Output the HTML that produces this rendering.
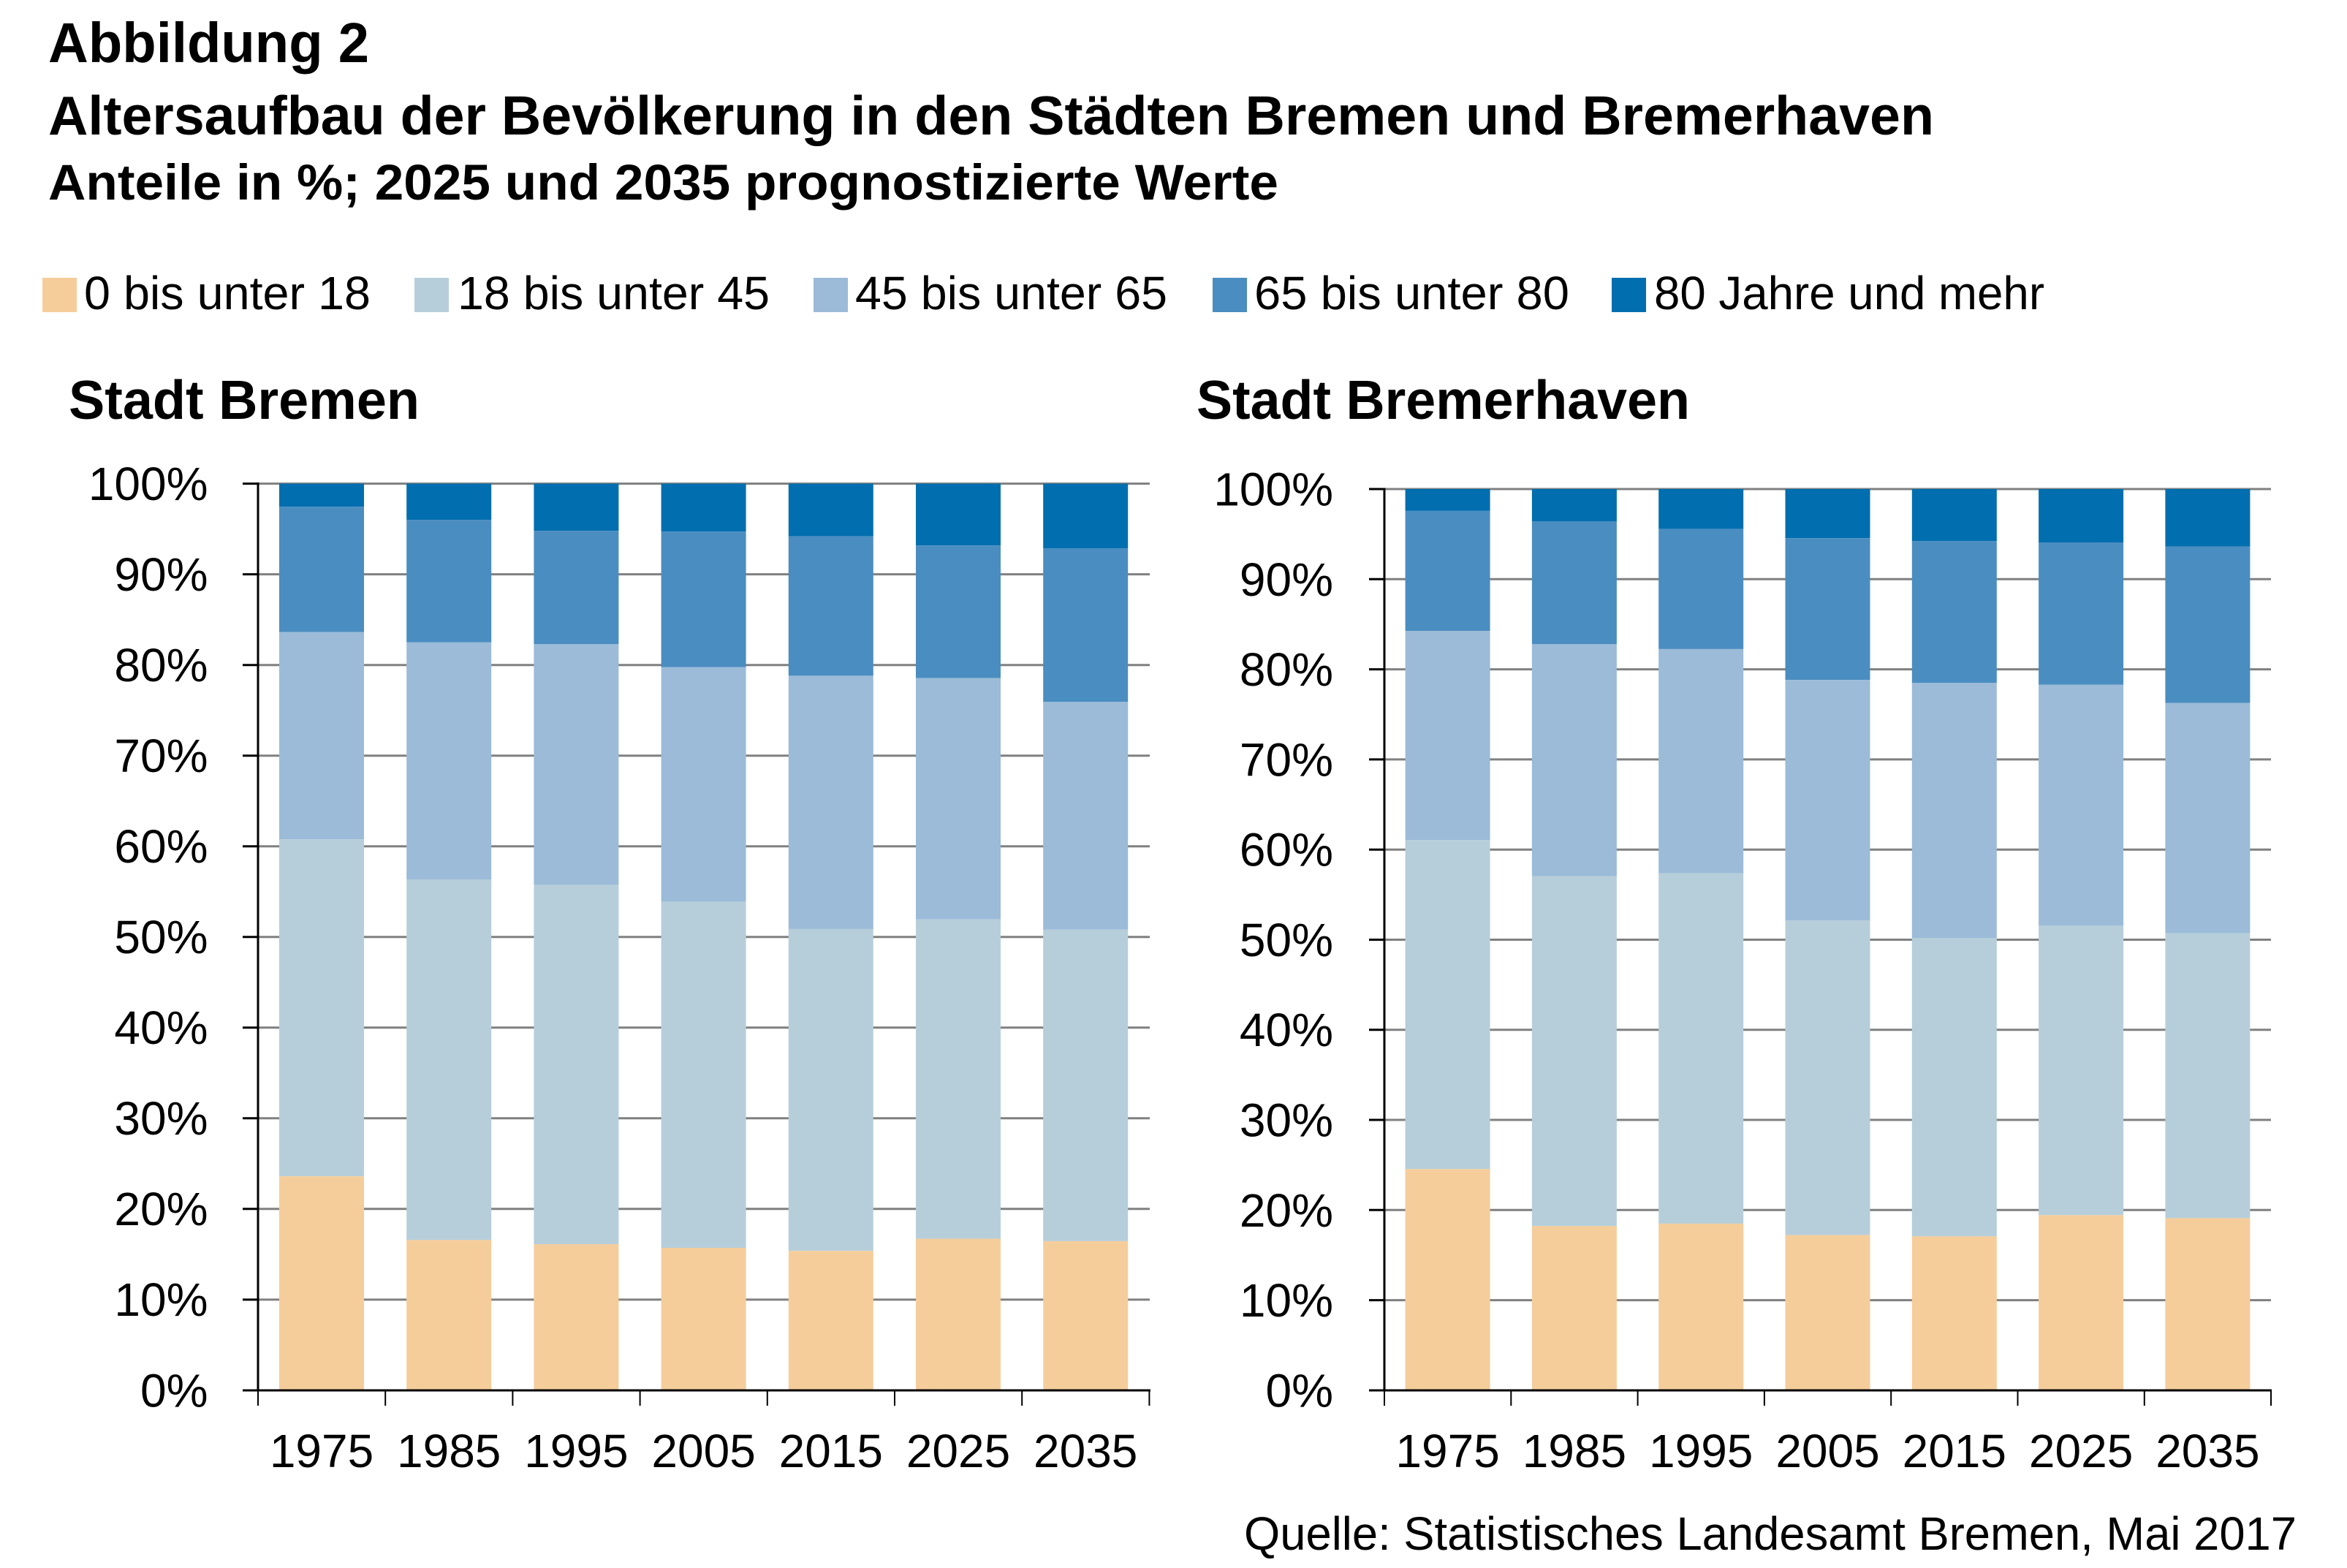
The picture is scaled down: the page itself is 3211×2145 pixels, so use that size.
<!DOCTYPE html>
<html><head><meta charset="utf-8"><style>
html,body{margin:0;padding:0;background:#fff;}
svg{display:block;}
text{font-family:"Liberation Sans",sans-serif;fill:#000;}
.b{font-weight:bold;}
</style></head><body>
<svg width="3211" height="2145" viewBox="0 0 3211 2145" xmlns="http://www.w3.org/2000/svg">
<rect width="3211" height="2145" fill="#fff"/>
<!-- titles -->
<text class="b" x="66" y="85" font-size="77" textLength="439" lengthAdjust="spacingAndGlyphs">Abbildung 2</text>
<text class="b" x="66" y="184" font-size="75" textLength="2580" lengthAdjust="spacingAndGlyphs">Altersaufbau der Bevölkerung in den Städten Bremen und Bremerhaven</text>
<text class="b" x="66" y="273" font-size="69" textLength="1683" lengthAdjust="spacingAndGlyphs">Anteile in %; 2025 und 2035 prognostizierte Werte</text>
<!-- legend -->
<rect x="58" y="380" width="47" height="47" fill="#F5CD9B"/>
<text x="115" y="423" font-size="64" textLength="392" lengthAdjust="spacingAndGlyphs">0 bis unter 18</text>
<rect x="567" y="380" width="47" height="47" fill="#B6CEDA"/>
<text x="626" y="423" font-size="64" textLength="427" lengthAdjust="spacingAndGlyphs">18 bis unter 45</text>
<rect x="1113" y="380" width="47" height="47" fill="#9BBBD8"/>
<text x="1170" y="423" font-size="64" textLength="427" lengthAdjust="spacingAndGlyphs">45 bis unter 65</text>
<rect x="1659" y="380" width="47" height="47" fill="#4A8DC1"/>
<text x="1716" y="423" font-size="64" textLength="431" lengthAdjust="spacingAndGlyphs">65 bis unter 80</text>
<rect x="2205" y="380" width="47" height="47" fill="#006EAF"/>
<text x="2263" y="423" font-size="64" textLength="534" lengthAdjust="spacingAndGlyphs">80 Jahre und mehr</text>
<!-- subtitles -->
<text class="b" x="94" y="573" font-size="75" textLength="480" lengthAdjust="spacingAndGlyphs">Stadt Bremen</text>
<text class="b" x="1637" y="573" font-size="75" textLength="675" lengthAdjust="spacingAndGlyphs">Stadt Bremerhaven</text>

<!-- LEFT CHART -->
<g stroke="#808080" stroke-width="3">
<line x1="353" x2="1573" y1="661.6" y2="661.6"/>
<line x1="353" x2="1573" y1="785.6" y2="785.6"/>
<line x1="353" x2="1573" y1="909.7" y2="909.7"/>
<line x1="353" x2="1573" y1="1033.7" y2="1033.7"/>
<line x1="353" x2="1573" y1="1157.7" y2="1157.7"/>
<line x1="353" x2="1573" y1="1281.8" y2="1281.8"/>
<line x1="353" x2="1573" y1="1405.8" y2="1405.8"/>
<line x1="353" x2="1573" y1="1529.8" y2="1529.8"/>
<line x1="353" x2="1573" y1="1653.8" y2="1653.8"/>
<line x1="353" x2="1573" y1="1777.9" y2="1777.9"/>
</g>
<!-- bars left: x = 382 + i*174.2 -->
<g>
<rect x="382" y="661.6" width="116" height="31.5" fill="#006EAF"/>
<rect x="382" y="693.1" width="116" height="171.6" fill="#4A8DC1"/>
<rect x="382" y="864.7" width="116" height="283.5" fill="#9BBBD8"/>
<rect x="382" y="1148.2" width="116" height="461" fill="#B6CEDA"/>
<rect x="382" y="1609.2" width="116" height="292.8" fill="#F5CD9B"/>

<rect x="556.2" y="661.6" width="116" height="49.7" fill="#006EAF"/>
<rect x="556.2" y="711.3" width="116" height="167.5" fill="#4A8DC1"/>
<rect x="556.2" y="878.8" width="116" height="324.2" fill="#9BBBD8"/>
<rect x="556.2" y="1203.0" width="116" height="493.3" fill="#B6CEDA"/>
<rect x="556.2" y="1696.3" width="116" height="205.7" fill="#F5CD9B"/>

<rect x="730.4" y="661.6" width="116" height="64.6" fill="#006EAF"/>
<rect x="730.4" y="726.2" width="116" height="155.1" fill="#4A8DC1"/>
<rect x="730.4" y="881.3" width="116" height="329.1" fill="#9BBBD8"/>
<rect x="730.4" y="1210.4" width="116" height="491.7" fill="#B6CEDA"/>
<rect x="730.4" y="1702.1" width="116" height="199.9" fill="#F5CD9B"/>

<rect x="904.6" y="661.6" width="116" height="65.5" fill="#006EAF"/>
<rect x="904.6" y="727.1" width="116" height="185.7" fill="#4A8DC1"/>
<rect x="904.6" y="912.8" width="116" height="320.8" fill="#9BBBD8"/>
<rect x="904.6" y="1233.6" width="116" height="473.4" fill="#B6CEDA"/>
<rect x="904.6" y="1707.0" width="116" height="195" fill="#F5CD9B"/>

<rect x="1078.8" y="661.6" width="116" height="72.1" fill="#006EAF"/>
<rect x="1078.8" y="733.7" width="116" height="190.7" fill="#4A8DC1"/>
<rect x="1078.8" y="924.4" width="116" height="346.5" fill="#9BBBD8"/>
<rect x="1078.8" y="1270.9" width="116" height="440.3" fill="#B6CEDA"/>
<rect x="1078.8" y="1711.2" width="116" height="190.8" fill="#F5CD9B"/>

<rect x="1253" y="661.6" width="116" height="84.5" fill="#006EAF"/>
<rect x="1253" y="746.1" width="116" height="181.6" fill="#4A8DC1"/>
<rect x="1253" y="927.7" width="116" height="330" fill="#9BBBD8"/>
<rect x="1253" y="1257.7" width="116" height="436.9" fill="#B6CEDA"/>
<rect x="1253" y="1694.6" width="116" height="207.4" fill="#F5CD9B"/>

<rect x="1427.2" y="661.6" width="116" height="88.7" fill="#006EAF"/>
<rect x="1427.2" y="750.3" width="116" height="209.7" fill="#4A8DC1"/>
<rect x="1427.2" y="960.0" width="116" height="311.8" fill="#9BBBD8"/>
<rect x="1427.2" y="1271.8" width="116" height="426.1" fill="#B6CEDA"/>
<rect x="1427.2" y="1697.9" width="116" height="204.1" fill="#F5CD9B"/>
</g>
<!-- axes left -->
<g stroke="#000" stroke-width="3">
<line x1="353" x2="353" y1="660" y2="1903.5"/>
<line x1="351.5" x2="1574" y1="1902" y2="1902"/>
<line x1="332" x2="353" y1="661.6" y2="661.6"/>
<line x1="332" x2="353" y1="785.6" y2="785.6"/>
<line x1="332" x2="353" y1="909.7" y2="909.7"/>
<line x1="332" x2="353" y1="1033.7" y2="1033.7"/>
<line x1="332" x2="353" y1="1157.7" y2="1157.7"/>
<line x1="332" x2="353" y1="1281.8" y2="1281.8"/>
<line x1="332" x2="353" y1="1405.8" y2="1405.8"/>
<line x1="332" x2="353" y1="1529.8" y2="1529.8"/>
<line x1="332" x2="353" y1="1653.8" y2="1653.8"/>
<line x1="332" x2="353" y1="1777.9" y2="1777.9"/>
<line x1="332" x2="353" y1="1902" y2="1902"/>
</g>
<g stroke="#000" stroke-width="2">
<line x1="353" x2="353" y1="1902" y2="1923"/>
<line x1="527.2" x2="527.2" y1="1902" y2="1923"/>
<line x1="701.4" x2="701.4" y1="1902" y2="1923"/>
<line x1="875.6" x2="875.6" y1="1902" y2="1923"/>
<line x1="1049.8" x2="1049.8" y1="1902" y2="1923"/>
<line x1="1224" x2="1224" y1="1902" y2="1923"/>
<line x1="1398.2" x2="1398.2" y1="1902" y2="1923"/>
<line x1="1572.4" x2="1572.4" y1="1902" y2="1923"/>
</g>
<g font-size="64" text-anchor="end">
<text x="284.5" y="684">100%</text>
<text x="284.5" y="808">90%</text>
<text x="284.5" y="932">80%</text>
<text x="284.5" y="1056">70%</text>
<text x="284.5" y="1180">60%</text>
<text x="284.5" y="1304">50%</text>
<text x="284.5" y="1428">40%</text>
<text x="284.5" y="1552">30%</text>
<text x="284.5" y="1676">20%</text>
<text x="284.5" y="1800">10%</text>
<text x="284.5" y="1924.5">0%</text>
</g>
<g font-size="64" text-anchor="middle">
<text x="440" y="2007">1975</text>
<text x="614.2" y="2007">1985</text>
<text x="788.4" y="2007">1995</text>
<text x="962.6" y="2007">2005</text>
<text x="1136.8" y="2007">2015</text>
<text x="1311" y="2007">2025</text>
<text x="1485.2" y="2007">2035</text>
</g>

<!-- RIGHT CHART -->
<g stroke="#808080" stroke-width="3">
<line x1="1894" x2="3107" y1="669.0" y2="669.0"/>
<line x1="1894" x2="3107" y1="792.3" y2="792.3"/>
<line x1="1894" x2="3107" y1="915.6" y2="915.6"/>
<line x1="1894" x2="3107" y1="1038.9" y2="1038.9"/>
<line x1="1894" x2="3107" y1="1162.2" y2="1162.2"/>
<line x1="1894" x2="3107" y1="1285.5" y2="1285.5"/>
<line x1="1894" x2="3107" y1="1408.7" y2="1408.7"/>
<line x1="1894" x2="3107" y1="1532.0" y2="1532.0"/>
<line x1="1894" x2="3107" y1="1655.3" y2="1655.3"/>
<line x1="1894" x2="3107" y1="1778.6" y2="1778.6"/>
</g>
<g>
<rect x="1922.6" y="669.0" width="116" height="29.9" fill="#006EAF"/>
<rect x="1922.6" y="698.9" width="116" height="164.1" fill="#4A8DC1"/>
<rect x="1922.6" y="863.0" width="116" height="286.1" fill="#9BBBD8"/>
<rect x="1922.6" y="1149.1" width="116" height="450.2" fill="#B6CEDA"/>
<rect x="1922.6" y="1599.3" width="116" height="302.7" fill="#F5CD9B"/>

<rect x="2095.9" y="669.0" width="116" height="44" fill="#006EAF"/>
<rect x="2095.9" y="713.0" width="116" height="168.3" fill="#4A8DC1"/>
<rect x="2095.9" y="881.3" width="116" height="317.5" fill="#9BBBD8"/>
<rect x="2095.9" y="1198.8" width="116" height="478.4" fill="#B6CEDA"/>
<rect x="2095.9" y="1677.2" width="116" height="224.8" fill="#F5CD9B"/>

<rect x="2269.2" y="669.0" width="116" height="54.7" fill="#006EAF"/>
<rect x="2269.2" y="723.7" width="116" height="164.2" fill="#4A8DC1"/>
<rect x="2269.2" y="887.9" width="116" height="306.8" fill="#9BBBD8"/>
<rect x="2269.2" y="1194.7" width="116" height="479.2" fill="#B6CEDA"/>
<rect x="2269.2" y="1673.9" width="116" height="228.1" fill="#F5CD9B"/>

<rect x="2442.5" y="669.0" width="116" height="67.2" fill="#006EAF"/>
<rect x="2442.5" y="736.2" width="116" height="194" fill="#4A8DC1"/>
<rect x="2442.5" y="930.2" width="116" height="329.1" fill="#9BBBD8"/>
<rect x="2442.5" y="1259.3" width="116" height="430.3" fill="#B6CEDA"/>
<rect x="2442.5" y="1689.6" width="116" height="212.4" fill="#F5CD9B"/>

<rect x="2615.8" y="669.0" width="116" height="71.3" fill="#006EAF"/>
<rect x="2615.8" y="740.3" width="116" height="194" fill="#4A8DC1"/>
<rect x="2615.8" y="934.3" width="116" height="349.1" fill="#9BBBD8"/>
<rect x="2615.8" y="1283.4" width="116" height="407.9" fill="#B6CEDA"/>
<rect x="2615.8" y="1691.3" width="116" height="210.7" fill="#F5CD9B"/>

<rect x="2789.1" y="669.0" width="116" height="73" fill="#006EAF"/>
<rect x="2789.1" y="742.0" width="116" height="194.8" fill="#4A8DC1"/>
<rect x="2789.1" y="936.8" width="116" height="329.2" fill="#9BBBD8"/>
<rect x="2789.1" y="1266.0" width="116" height="396.3" fill="#B6CEDA"/>
<rect x="2789.1" y="1662.3" width="116" height="239.7" fill="#F5CD9B"/>

<rect x="2962.4" y="669.0" width="116" height="78.8" fill="#006EAF"/>
<rect x="2962.4" y="747.8" width="116" height="213.9" fill="#4A8DC1"/>
<rect x="2962.4" y="961.7" width="116" height="315" fill="#9BBBD8"/>
<rect x="2962.4" y="1276.7" width="116" height="389.7" fill="#B6CEDA"/>
<rect x="2962.4" y="1666.4" width="116" height="235.6" fill="#F5CD9B"/>
</g>
<g stroke="#000" stroke-width="3">
<line x1="1894" x2="1894" y1="667.5" y2="1903.5"/>
<line x1="1892.5" x2="3108" y1="1902" y2="1902"/>
<line x1="1873" x2="1894" y1="669.0" y2="669.0"/>
<line x1="1873" x2="1894" y1="792.3" y2="792.3"/>
<line x1="1873" x2="1894" y1="915.6" y2="915.6"/>
<line x1="1873" x2="1894" y1="1038.9" y2="1038.9"/>
<line x1="1873" x2="1894" y1="1162.2" y2="1162.2"/>
<line x1="1873" x2="1894" y1="1285.5" y2="1285.5"/>
<line x1="1873" x2="1894" y1="1408.7" y2="1408.7"/>
<line x1="1873" x2="1894" y1="1532.0" y2="1532.0"/>
<line x1="1873" x2="1894" y1="1655.3" y2="1655.3"/>
<line x1="1873" x2="1894" y1="1778.6" y2="1778.6"/>
<line x1="1873" x2="1894" y1="1902" y2="1902"/>
</g>
<g stroke="#000" stroke-width="2">
<line x1="1894" x2="1894" y1="1902" y2="1923"/>
<line x1="2067.3" x2="2067.3" y1="1902" y2="1923"/>
<line x1="2240.6" x2="2240.6" y1="1902" y2="1923"/>
<line x1="2413.9" x2="2413.9" y1="1902" y2="1923"/>
<line x1="2587.2" x2="2587.2" y1="1902" y2="1923"/>
<line x1="2760.5" x2="2760.5" y1="1902" y2="1923"/>
<line x1="2933.8" x2="2933.8" y1="1902" y2="1923"/>
<line x1="3107" x2="3107" y1="1902" y2="1923"/>
</g>
<g font-size="64" text-anchor="end">
<text x="1824" y="691.5">100%</text>
<text x="1824" y="815">90%</text>
<text x="1824" y="938">80%</text>
<text x="1824" y="1061.5">70%</text>
<text x="1824" y="1184.5">60%</text>
<text x="1824" y="1308">50%</text>
<text x="1824" y="1431">40%</text>
<text x="1824" y="1554.5">30%</text>
<text x="1824" y="1678">20%</text>
<text x="1824" y="1801">10%</text>
<text x="1824" y="1924.5">0%</text>
</g>
<g font-size="64" text-anchor="middle">
<text x="1980.6" y="2007">1975</text>
<text x="2153.9" y="2007">1985</text>
<text x="2327.2" y="2007">1995</text>
<text x="2500.5" y="2007">2005</text>
<text x="2673.8" y="2007">2015</text>
<text x="2847.1" y="2007">2025</text>
<text x="3020.4" y="2007">2035</text>
</g>
<!-- source -->
<text x="1702" y="2120" font-size="64" textLength="1440" lengthAdjust="spacingAndGlyphs">Quelle: Statistisches Landesamt Bremen, Mai 2017</text>
</svg>
</body></html>
